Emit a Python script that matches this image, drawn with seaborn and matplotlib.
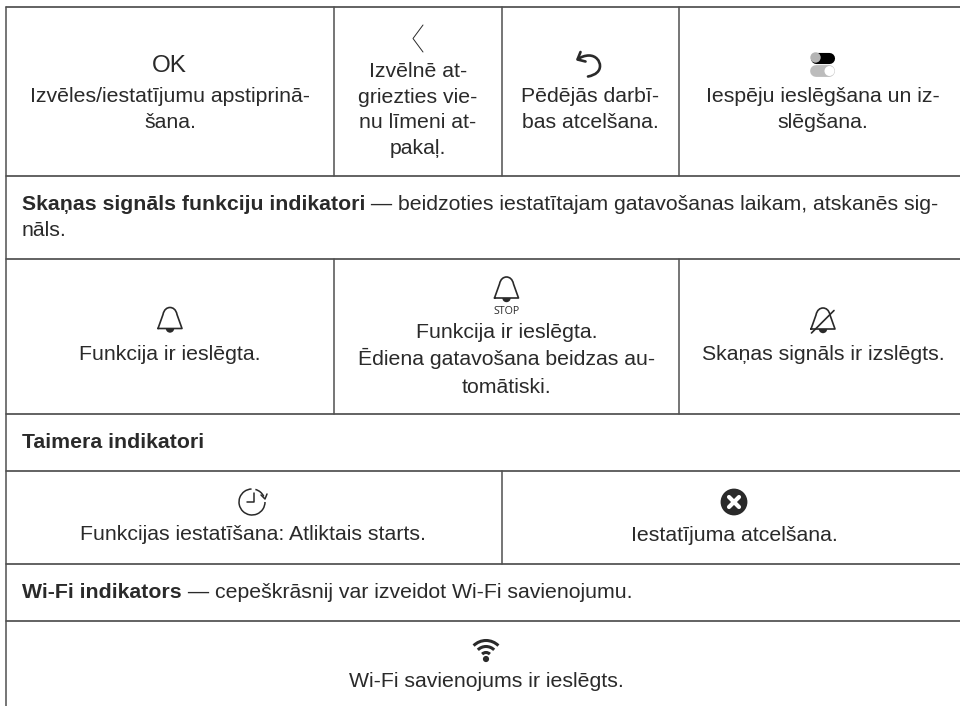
#!/usr/bin/env python3
import pandas as pd
import matplotlib.pyplot as plt
import seaborn as sns
from matplotlib.patches import Arc, Circle, PathPatch, Wedge
from matplotlib.path import Path

# table text
ok_label = "OK"
stop_label = "STOP"
row1_cells = [
    "Izvēles/iestatījumu apstiprinā-\nšana.",
    "Izvēlnē at-\ngriezties vie-\nnu līmeni at-\npakaļ.",
    "Pēdējās darbī-\nbas atcelšana.",
    "Iespēju ieslēgšana un iz-\nslēgšana.",
]
sound_bold = "Skaņas signāls funkciju indikatori"
sound_rest = " — beidzoties iestatītajam gatavošanas laikam, atskanēs sig-"
sound_line2 = "nāls."
row3_cells = [
    "Funkcija ir ieslēgta.",
    "Funkcija ir ieslēgta.\nĒdiena gatavošana beidzas au-\ntomātiski.",
    "Skaņas signāls ir izslēgts.",
]
timer_title = "Taimera indikatori"
timer_cells = ["Funkcijas iestatīšana: Atliktais starts.", "Iestatījuma atcelšana."]
wifi_bold = "Wi-Fi indikators"
wifi_rest = " — cepeškrāsnij var izveidot Wi-Fi savienojumu."
wifi_cell = "Wi-Fi savienojums ir ieslēgts."

# table rules, in pixels of the page
h_rules = [7, 176, 258.5, 413.5, 470.5, 563.5, 620.5]
v_rules = [(6, 7, 706), (334, 7, 176), (502, 7, 176), (679, 7, 176),
           (334, 258.5, 413.5), (679, 258.5, 413.5), (502, 470.5, 563.5)]

INK = "#2a2a2a"
FS = 15.3


def draw_rules(ax):
    rows = []
    for i, y in enumerate(h_rules):
        rows += [{"rule": f"h{i}", "x": 6, "y": y}, {"rule": f"h{i}", "x": 960, "y": y}]
    sns.lineplot(data=pd.DataFrame(rows), x="x", y="y", units="rule", estimator=None, sort=False,
                 color="#404040", linewidth=1.15, ax=ax)
    rows = []
    for i, (x, y0, y1) in enumerate(v_rules):
        rows += [{"rule": f"v{i}", "x": x, "y": y0}, {"rule": f"v{i}", "x": x, "y": y1}]
    sns.lineplot(data=pd.DataFrame(rows), x="x", y="y", units="rule", estimator=None, sort=False,
                 color="#505050", linewidth=1.1, ax=ax)


def centered(ax, x, first_baseline, text, step=25.7):
    for i, line in enumerate(text.split("\n")):
        ax.text(x, first_baseline + i * step, line, ha="center", va="baseline",
                fontsize=FS, color=INK)


def bold_then_plain(ax, x, y, bold, plain):
    t = ax.text(x, y, bold, fontweight="bold", va="baseline", fontsize=FS, color=INK)
    box = t.get_window_extent(ax.figure.canvas.get_renderer())
    ax.text(box.x1, y, plain, va="baseline", fontsize=FS, color=INK)


def stroke(ax, verts, codes=None, lw=1.0, color=INK, **kw):
    ax.add_patch(PathPatch(Path(verts, codes), fill=False, edgecolor=color, linewidth=lw,
                           capstyle="round", joinstyle="round", **kw))


def bell(ax, cx, top, scale=1.0, lw=1.2):
    pts = [(-12, 21), (-7, 7), (-6, 2), (-3, 0), (0, 0), (3, 0), (6, 2), (7, 7), (12, 21), (-12, 21)]
    codes = [Path.MOVETO, Path.LINETO, Path.CURVE4, Path.CURVE4, Path.CURVE4,
             Path.CURVE4, Path.CURVE4, Path.CURVE4, Path.LINETO, Path.LINETO]
    stroke(ax, [(cx + a * scale, top + b * scale) for a, b in pts], codes, lw=lw)
    ax.add_patch(Wedge((cx, top + 21 * scale), 4.2 * scale, 0, 180, color=INK, lw=0))


def draw_icons(ax):
    # chevron
    stroke(ax, [(423, 25), (413, 38.5), (423, 52)], lw=0.7)

    # undo
    stroke(ax, [(580.5, 52), (577.5, 59.5), (585.5, 61.5)], lw=1.9)
    stroke(ax, [(578, 59), (581, 57), (585, 55.5), (589, 55.5), (596, 55.5), (600, 61), (600, 66),
                (600, 71), (596, 75), (588, 76.5)],
           [Path.MOVETO, Path.CURVE4, Path.CURVE4, Path.CURVE4, Path.CURVE4, Path.CURVE4, Path.CURVE4,
            Path.CURVE4, Path.CURVE4, Path.CURVE4],
           lw=1.9)

    # toggles
    ax.plot([816, 829], [57.5, 57.5], color="black", lw=8, solid_capstyle="round", zorder=3)
    ax.add_patch(Circle((815.5, 57.5), 5.2, color="#b4b4b4", lw=0, zorder=4))
    ax.plot([816, 829], [71, 71], color="#bcbcbc", lw=8.5, solid_capstyle="round", zorder=3)
    ax.add_patch(Circle((829.5, 71), 5.0, color="white", lw=0, zorder=4))

    # bells
    bell(ax, 170, 307.5)
    bell(ax, 506.5, 277)
    bell(ax, 823, 308)
    ax.plot([811.5, 834], [333, 310.5], color=INK, lw=1.2, solid_capstyle="round")

    # delayed start clock
    ax.add_patch(Arc((252, 502), 26, 26, theta1=0, theta2=268, color=INK, lw=1.1))
    ax.add_patch(Arc((252, 502), 26, 26, theta1=-75, theta2=-25, color=INK, lw=1.1))
    stroke(ax, [(254, 493), (254, 502), (247, 502)], lw=1.1)
    stroke(ax, [(261, 495), (265, 499), (267, 494)], lw=1.1)

    # cancel
    ax.add_patch(Circle((734, 502), 13.4, color=INK, lw=0))
    ax.plot([729, 739], [497, 507], color="white", lw=3.0, solid_capstyle="round", zorder=3)
    ax.plot([729, 739], [507, 497], color="white", lw=3.0, solid_capstyle="round", zorder=3)

    # wifi
    ax.add_patch(Circle((486, 659), 3.1, color=INK, lw=0))
    for d in [35, 23, 11]:
        ax.add_patch(Arc((486, 658), d, d, theta1=-135, theta2=-45, color=INK, lw=2.2))


def main():
    sns.set_theme(style="white")
    plt.rcParams["font.family"] = ["Liberation Sans", "DejaVu Sans"]

    fig = plt.figure(figsize=(9.6, 7.06), dpi=100)
    ax = fig.add_axes([0, 0, 1, 1])
    draw_rules(ax)
    ax.set_xlim(0, 960)
    ax.set_ylim(706, 0)
    ax.axis("off")

    ax.text(169, 72, ok_label, ha="center", va="baseline", fontsize=17.5, color=INK)
    centered(ax, 170, 102, row1_cells[0])
    centered(ax, 418, 77, row1_cells[1])
    centered(ax, 590, 102, row1_cells[2])
    centered(ax, 823, 102, row1_cells[3])

    bold_then_plain(ax, 22, 210, sound_bold, sound_rest)
    ax.text(22, 236, sound_line2, va="baseline", fontsize=FS, color=INK)

    centered(ax, 170, 360, row3_cells[0])
    ax.text(506.5, 314.5, stop_label, ha="center", va="baseline", fontsize=7.7, color=INK,
            family="Open Sans")
    centered(ax, 506.5, 338, row3_cells[1], step=27.3)
    centered(ax, 823, 360, row3_cells[2])

    ax.text(22, 448, timer_title, fontweight="bold", va="baseline", fontsize=FS, color=INK)
    centered(ax, 253, 540, timer_cells[0])
    centered(ax, 734, 541, timer_cells[1])

    bold_then_plain(ax, 22, 598, wifi_bold, wifi_rest)
    centered(ax, 486, 687, wifi_cell)

    draw_icons(ax)
    fig.savefig("out.png", dpi=100)
    plt.close(fig)


if __name__ == "__main__":
    main()
